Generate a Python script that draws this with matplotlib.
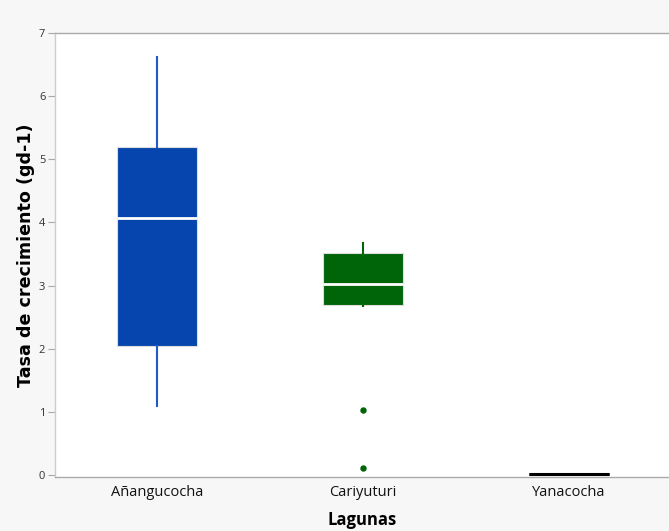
import matplotlib
matplotlib.use("Agg")
import matplotlib.pyplot as plt

# Growth-rate summary per lagoon
lagunas = ["Añangucocha", "Cariyuturi", "Yanacocha"]
whisker_low = [1.09, 2.68, 0.02]
q1 = [2.04, 2.70, 0.02]
median = [4.07, 3.03, 0.02]
q3 = [5.20, 3.51, 0.02]
whisker_high = [6.62, 3.67, 0.02]
outliers = [[], [1.03, 0.11], []]
box_colors = ["#0645ad", "#006409", "#000000"]
whisker_colors = ["#1f5bc6", "#006409", "#000000"]
y_ticks = [0, 1, 2, 3, 4, 5, 6, 7]

W, H = 669, 531
left_px, top_px, bottom_px = 55, 33, 477

fig = plt.figure(figsize=(W / 100, H / 100), dpi=100)
fig.patch.set_facecolor("#f7f7f7")
ax = fig.add_axes([left_px / W, 1 - bottom_px / H, 1 - left_px / W, (bottom_px - top_px) / H])
ax.set_facecolor("white")

stats = []
for i, name in enumerate(lagunas):
    stats.append(dict(label=name, whislo=whisker_low[i], q1=q1[i], med=median[i],
                      q3=q3[i], whishi=whisker_high[i], fliers=outliers[i]))

positions = list(range(len(lagunas)))
for i, st in enumerate(stats):
    is_flat = st["q1"] == st["q3"]
    ax.bxp([st], positions=[positions[i]], widths=0.385, patch_artist=True,
           showcaps=False,
           boxprops=dict(facecolor=box_colors[i], edgecolor="#dddddd" if not is_flat else box_colors[i],
                         linewidth=0.8 if not is_flat else 2.2),
           medianprops=dict(color="white" if not is_flat else box_colors[i], linewidth=2),
           whiskerprops=dict(color=whisker_colors[i], linewidth=1.5),
           flierprops=dict(marker="o", markerfacecolor=box_colors[i], markeredgecolor=box_colors[i],
                           markersize=3.6))

ax.set_xlim(-0.495, 2.485)
ax.set_ylim(-0.03, 7.0)
ax.set_yticks(y_ticks)
ax.set_yticklabels([str(t) for t in y_ticks], fontsize=8, color="#333333", family="Open Sans")
ax.set_xticks(positions)
ax.set_xticklabels(lagunas, fontsize=10.5, family="Open Sans", color="#111111")
ax.tick_params(axis="x", length=0, pad=6)
ax.tick_params(axis="y", length=5, width=0.8, color="#aaaaaa", pad=2)

for side in ["left", "bottom", "top"]:
    ax.spines[side].set_color("#aaaaaa")
    ax.spines[side].set_linewidth(1.0)
ax.spines["left"].set_color("#cccccc")
ax.spines["right"].set_visible(False)

ax.set_ylabel("Tasa de crecimiento (gd-1)", fontsize=12.6, fontweight="bold",
              family="DejaVu Sans")
ax.yaxis.set_label_coords((35 - left_px) / (W - left_px), (bottom_px - 255) / (bottom_px - top_px))
ax.set_xlabel("Lagunas", fontsize=12, fontweight="bold", family="Open Sans", labelpad=8)

fig.savefig("out.png", dpi=100, facecolor=fig.get_facecolor())
